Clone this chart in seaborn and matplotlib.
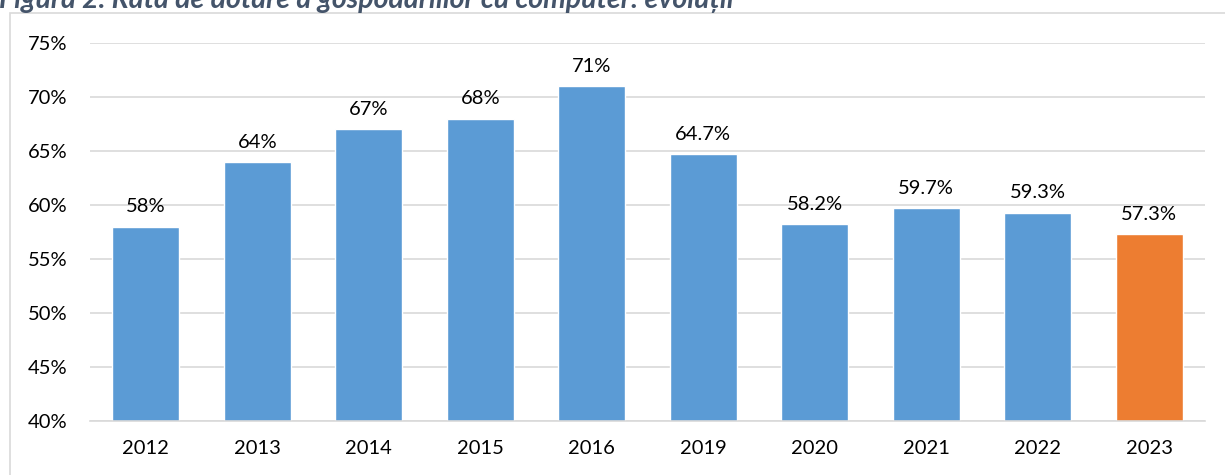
import matplotlib
matplotlib.use("Agg")
import matplotlib.pyplot as plt
import seaborn as sns
import pandas as pd
from matplotlib.patches import Rectangle

years = ["2012", "2013", "2014", "2015", "2016", "2019", "2020", "2021", "2022", "2023"]
values = [58, 64, 67, 68, 71, 64.7, 58.2, 59.7, 59.3, 57.3]
yticks = [40, 45, 50, 55, 60, 65, 70, 75]
title = "Figura 2. Rata de dotare a gospodăriilor cu computer: evoluții"

sns.set_theme(style="white")
plt.rcParams["font.family"] = ["Lato", "DejaVu Sans"]

W, H = 1225, 475
fig = plt.figure(figsize=(W / 100, H / 100), dpi=100)
ax = fig.add_axes([90 / W, 1 - 421 / H, 1115 / W, (421 - 43) / H])

df = pd.DataFrame({"year": years, "value": values})
palette = ["#5B9BD5"] * (len(years) - 1) + ["#ED7D31"]
sns.barplot(data=df, x="year", y="value", hue="year", palette=palette,
            legend=False, ax=ax, width=0.6, saturation=1)

ax.set_ylim(40, 75)
ax.set_xlim(-0.5, len(years) - 0.5)
ax.set_yticks(yticks)
ax.set_yticklabels([f"{t}%" for t in yticks])
ax.set_xlabel("")
ax.set_ylabel("")
ax.grid(axis="y", color="#D9D9D9", linewidth=1.2)
ax.set_axisbelow(True)
for s in ["top", "right", "left"]:
    ax.spines[s].set_visible(False)
ax.spines["bottom"].set_color("#D9D9D9")
ax.spines["bottom"].set_linewidth(1.2)
ax.tick_params(axis="both", length=0, labelsize=14.5, colors="#000000")
ax.tick_params(axis="y", pad=16)
ax.tick_params(axis="x", pad=14)

for cont in ax.containers:
    ax.bar_label(cont, labels=[f"{v:g}%" for v in cont.datavalues],
                 padding=8, fontsize=14.5, color="#000000")

# outer chart border
fig.patches.append(Rectangle((10 / W, -0.05), 1.1, 1 - 13 / H + 0.05,
                             transform=fig.transFigure, fill=False,
                             edgecolor="#D9D9D9", linewidth=1.2))

fig.text(-1 / W, 1 - 8 / H, title, fontsize=20.5, fontweight="bold",
         fontstyle="italic", color="#44546A", va="baseline", ha="left")

fig.savefig("out.png", dpi=100)
